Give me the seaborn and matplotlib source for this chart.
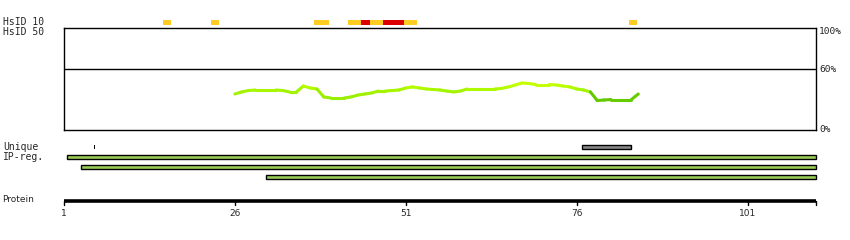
import numpy as np
import matplotlib
matplotlib.use("Agg")
import matplotlib.pyplot as plt
import matplotlib.colors as mcolors
import seaborn as sns
import pandas as pd

# ---------------- data ----------------
protein_length = 111
tick_positions = [1, 26, 51, 76, 101]
tick_labels = ["1", "26", "51", "76", "101"]

# identity profile (residue, percent)
ident_residue = list(range(26, 86))
ident_percent = [35.3, 37.3, 38.7, 39.2, 39.2, 39.2, 39.2, 38.7, 37.3, 37.3,
                 43.1, 41.2, 40.2, 32.4, 31.4, 31.4, 31.4, 32.4, 34.3, 35.3,
                 36.3, 38.2, 38.2, 38.7, 39.2, 41.2, 42.2, 41.2, 40.2, 39.7,
                 39.2, 38.2, 37.3, 38.2, 40.2, 40.2, 40.2, 40.2, 40.2, 40.7,
                 42.2, 44.1, 46.1, 45.6, 44.6, 44.6, 44.6, 44.1, 43.1, 42.2,
                 40.2, 39.2, 37.3, 28.9, 29.4, 29.9, 29.9, 29.9, 29.9, 35.3]

# HsID 10 segments: start, end (residues), level
hs_start = [15.5, 22.5, 37.5, 42.6, 44.5, 45.7, 47.6, 50.8, 83.6]
hs_end = [16.6, 23.6, 39.7, 44.5, 45.7, 47.6, 50.8, 52.7, 84.8]
hs_level = ["low", "low", "low", "low", "high", "low", "high", "low", "low"]

# Unique track
unique_start = [5.35, 76.7]
unique_end = [5.6, 83.9]
unique_kind = ["mark", "bar"]

# IP-reg tracks
ip_start = [1.45, 3.5, 30.5]
ip_end = [111.0, 111.0, 111.0]

# ---------------- layout ----------------
W, H = 850, 240
sns.set_style("white")
plt.rcParams["font.family"] = ["DejaVu Sans Mono", "DejaVu Sans"]

fig = plt.figure(figsize=(W / 100, H / 100), dpi=100)
px0, px1 = 64, 816
ppr = (px1 - px0) / (protein_length - 1)
xa = 1 - px0 / ppr
xb = xa + W / ppr

# background axes in residue x / pixel y
bg = fig.add_axes([0, 0, 1, 1])
bg.set_xlim(xa, xb)
bg.set_ylim(H, 0)
bg.axis("off")

# main identity box
top, bot = 28, 130
ax = fig.add_axes([px0 / W, (H - bot) / H, (px1 - px0) / W, (bot - top) / H])
ax.set_xlim(1, protein_length)
ax.set_ylim(0, 100)
for s in ax.spines.values():
    s.set_visible(True)
    s.set_color("black")
    s.set_linewidth(1)
ax.set_xticks([])
ax.set_yticks([])
ax.set_facecolor("none")
ax.axhline(60, color="black", lw=1)

stops = [(0.0, "#5fc400"), (0.10, "#66cc00"), (0.14, "#99ee00"),
         (0.55, "#a4f500"), (0.75, "#bbff00"), (1.0, "#ccff00")]
cmap = mcolors.LinearSegmentedColormap.from_list("idc", stops)
norm = mcolors.Normalize(vmin=28, vmax=47)
df = pd.DataFrame({"res": ident_residue, "pct": ident_percent})
for i in range(len(df) - 1):
    seg = df.iloc[i:i + 2]
    c = cmap(norm(seg["pct"].min()))
    sns.lineplot(data=seg, x="res", y="pct", ax=ax, color=c, lw=2.2,
                 solid_capstyle="round", legend=False)
ax.set_xlabel("")
ax.set_ylabel("")

# HsID 10 track
hs_colors = {"low": "#ffcc22", "high": "#dd0000"}
for s, e, lv in zip(hs_start, hs_end, hs_level):
    bg.barh(22, e - s, left=s, height=5, color=hs_colors[lv], lw=0)

# Unique track
for s, e, k in zip(unique_start, unique_end, unique_kind):
    if k == "mark":
        bg.barh(147, e - s, left=s, height=4, color="black", lw=0)
    else:
        bg.barh(147, e - s, left=s, height=4, color="#888888",
                edgecolor="black", lw=1)

# IP-reg tracks
for j, (s, e) in enumerate(zip(ip_start, ip_end)):
    bg.barh(157 + 10 * j, e - s, left=s, height=4, color="#99cc55",
            edgecolor="black", lw=1)

# Protein axis
bg.plot([1, protein_length], [200.5, 200.5], color="black", lw=2.6,
        solid_capstyle="butt")
for t, lab in zip(tick_positions + [protein_length], tick_labels + [None]):
    bg.plot([t, t], [200.5, 204.5], color="black", lw=1)
    if lab:
        bg.text(t, 213, lab, ha="center", va="center", fontsize=6.5,
                family="DejaVu Sans")

# labels
fs = 7
bg.text(xa + 3 / ppr, 22, "HsID 10", ha="left", va="center", fontsize=fs)
bg.text(xa + 3 / ppr, 32, "HsID 50", ha="left", va="center", fontsize=fs)
bg.text(xa + 3 / ppr, 147, "Unique", ha="left", va="center", fontsize=fs)
bg.text(xa + 3 / ppr, 157, "IP-reg.", ha="left", va="center", fontsize=fs)
bg.text(xa + 2 / ppr, 199, "Protein", ha="left", va="center", fontsize=6.5,
        family="DejaVu Sans")
for lab, yy in [("100%", 32), ("60%", 70), ("0%", 130)]:
    bg.text(xa + 819 / ppr, yy, lab, ha="left", va="center", fontsize=6.8)

fig.savefig("out.png", dpi=100)
